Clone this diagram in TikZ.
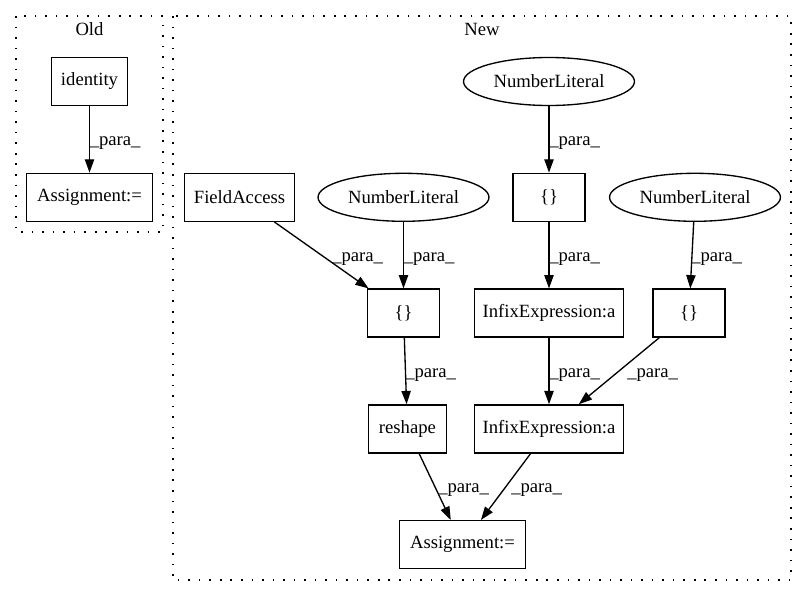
\documentclass[tikz,border=0pt]{standalone}
\usepackage{fontspec}
\setmainfont{Liberation Serif}
\usetikzlibrary{arrows.meta,shapes.geometric}
\tikzset{
  gvbox/.style={draw=black,line width=1pt,rectangle,inner sep=0pt,minimum height=36pt,font=\fontsize{14pt}{16pt}\selectfont},
  gvell/.style={draw=black,line width=1pt,ellipse,inner sep=0pt,minimum width=128.2pt,minimum height=36pt,font=\fontsize{14pt}{16pt}\selectfont},
  gvedge/.style={line width=1pt,-{Triangle[length=10pt,width=7pt]}},
  gvlab/.style={anchor=base west,inner sep=0pt,font=\fontsize{14pt}{16pt}\selectfont},
  gvclus/.style={line width=1pt,dash pattern=on 1.2pt off 6.7pt},
  gvtitle/.style={anchor=base,inner sep=0pt,font=\fontsize{14pt}{16pt}\selectfont}
}
\begin{document}
\begin{tikzpicture}[x=0.75pt,y=-0.75pt]
\useasboundingbox (0,0) rectangle (807,596);
% clusters
\draw[gvclus] (16,16) rectangle (163,232);
\draw[gvclus] (173,16) rectangle (791,580);
\node[gvtitle] (toldt) at (89.5,35.5) {Old};
\node[gvtitle] (tnewt) at (482,35.5) {New};
% Old nodes
\node[gvbox,minimum width=56.7pt] (oid) at (89.5,81.5) {identity};
\node[gvbox,minimum width=94.1pt] (oas) at (89.5,197.3) {Assignment:=};
% New nodes
\node[gvell] (nltop) at (549,81.5) {NumberLiteral};
\node[gvbox,minimum width=82.5pt] (fa) at (239.5,197.3) {FieldAccess};
\node[gvell] (nll) at (403.5,197.3) {NumberLiteral};
\node[gvbox,minimum width=54pt] (bt) at (549,197.3) {\{\}};
\node[gvell] (nlr) at (695,197.3) {NumberLiteral};
\node[gvbox,minimum width=54pt] (bm) at (403.5,313.1) {\{\}};
\node[gvbox,minimum width=112.2pt] (ia) at (549,313.1) {InfixExpression:a};
\node[gvbox,minimum width=54pt] (br) at (689,313.1) {\{\}};
\node[gvbox,minimum width=58.2pt] (rs) at (407.4,428.9) {reshape};
\node[gvbox,minimum width=112.2pt] (ib) at (549,428.9) {InfixExpression:a};
\node[gvbox,minimum width=94.1pt] (nas) at (462.5,544.7) {Assignment:=};
% edges
\draw[gvedge] (oid) -- (oas);
\draw[gvedge] (nltop) -- (bt);
\draw[gvedge] (fa) -- (bm);
\draw[gvedge] (nll) -- (bm);
\draw[gvedge] (bt) -- (ia);
\draw[gvedge] (nlr) -- (br);
\draw[gvedge] (bm) -- (rs);
\draw[gvedge] (ia) -- (ib);
\draw[gvedge] (br) -- (ib);
\draw[gvedge] (rs) -- (nas);
\draw[gvedge] (ib) -- (nas);
% labels
\node[gvlab] (l1) at (89.5,145.4) {\_para\_};
\node[gvlab] (l2) at (549,145.4) {\_para\_};
\node[gvlab] (l3) at (332,261.2) {\_para\_};
\node[gvlab] (l4) at (403.5,261.2) {\_para\_};
\node[gvlab] (l5) at (549,261.2) {\_para\_};
\node[gvlab] (l6) at (691,261.2) {\_para\_};
\node[gvlab] (l7) at (405,377) {\_para\_};
\node[gvlab] (l8) at (549,377) {\_para\_};
\node[gvlab] (l9) at (627,377) {\_para\_};
\node[gvlab] (l10) at (438,492.8) {\_para\_};
\node[gvlab] (l11) at (511,492.8) {\_para\_};
\end{tikzpicture}
\end{document}
